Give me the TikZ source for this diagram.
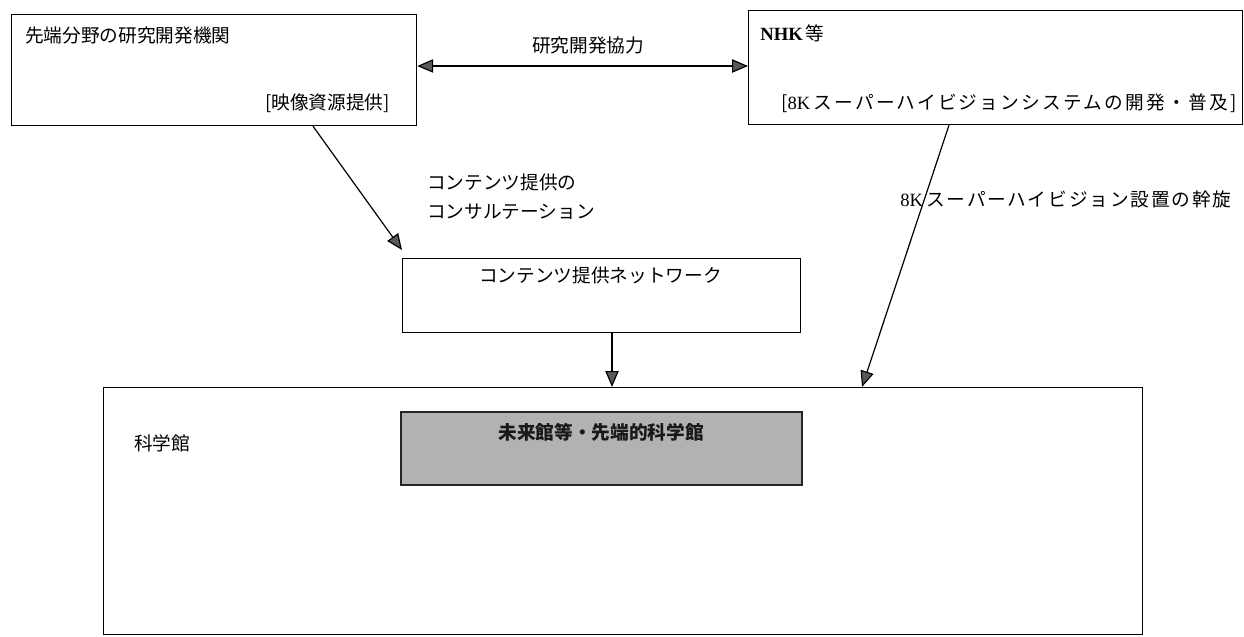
\documentclass[tikz,border=0pt]{standalone}
\usepackage{fontspec}
\setmainfont{Noto Sans CJK JP}
\newfontfamily\lat{Liberation Serif}
\usetikzlibrary{arrows.meta,calc}
\begin{document}
\begin{tikzpicture}[x=0.75pt,y=-0.75pt,
  box/.style={draw,line width=0.9pt,inner sep=0pt,anchor=north west},
  lbl/.style={inner sep=0pt,font=\fontsize{14}{16}\selectfont},
  tip/.style={},
  arr/.style={line width=0.9pt,-{Triangle[length=12pt,width=10pt,fill=black!65]}},
  arrb/.style={line width=0.9pt,{Triangle[length=12pt,width=10pt,fill=black!65]}-{Triangle[length=12pt,width=10pt,fill=black!65]}}]
\useasboundingbox (0,0) rectangle (1244,636);
% boxes
\node[box,minimum width=303.75pt,minimum height=83.25pt] (left) at (11,14) {};
\node[box,minimum width=370.5pt,minimum height=85.5pt] (nhk) at (748,10) {};
\node[box,minimum width=298.5pt,minimum height=55.5pt] (net) at (402,258) {};
\node[box,minimum width=779.25pt,minimum height=185.25pt] (sci) at (103,387) {};
\node[box,minimum width=300.75pt,minimum height=54.75pt,fill=black!30,draw=black!85,line width=1.2pt] (gray) at (400,411) {};
% texts
\node[lbl,anchor=west] (t1) at ($(left.north west)+(14,21)$) {先端分野の研究開発機関};
\node[lbl,anchor=east] (t2) at ($(left.north west)+(379,89)$) {[映像資源提供]};
\node[lbl] (coop) at (588,45) {研究開発協力};
\node[lbl,anchor=west] (t3) at ($(nhk.north west)+(12,23)$) {{\lat\bfseries NHK}\,等};
\node[lbl,anchor=west] (t4) at ($(nhk.north west)+(33,93)$) {\addfontfeatures{LetterSpace=12}[{\lat 8K}\,スーパーハイビジョンシステムの開発・普及]};
\node[lbl,anchor=west] (c1) at (427,182) {コンテンツ提供の};
\node[lbl,anchor=west] (c2) at (427,212) {コンサルテーション};
\node[lbl,anchor=west] (t5) at ($(net.north west)+(77,17)$) {コンテンツ提供ネットワーク};
\node[lbl,anchor=west] (t6) at (900,199) {{\lat 8K}\,{\addfontfeatures{LetterSpace=10}スーパーハイビジョン設置の幹旋}};
\node[lbl,anchor=west] (t7) at ($(sci.north west)+(31,56)$) {科学館};
\node[lbl,text=black!90] (t8) at ($(gray.north west)+(201,21)$) {\bfseries 未来館等・先端的科学館};
% connectors
\draw[arrb] ($(left.north east)+(0,52)$) -- ($(nhk.north west)+(0,56)$);
\draw[arr] ($(left.south west)+(302,0)$) -- ($(net.north west)+(0,-8)$);
\draw[arr] ($(net.south west)+(210,0)$) -- ($(sci.north west)+(509,0)$);
\draw[arr] ($(nhk.south west)+(201,0)$) -- ($(sci.north west)+(759,0)$);
\end{tikzpicture}
\end{document}
